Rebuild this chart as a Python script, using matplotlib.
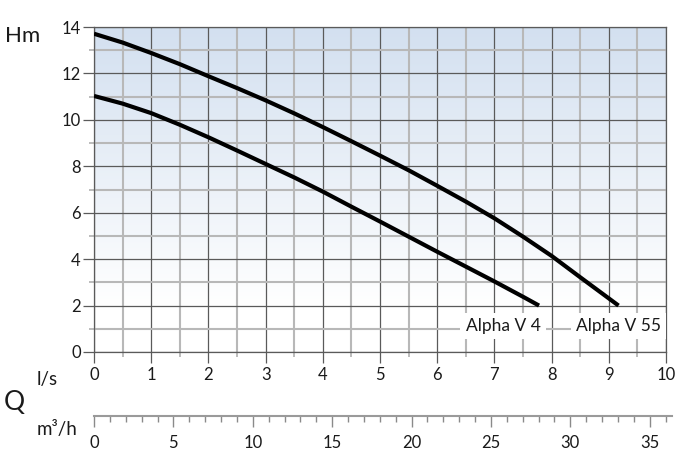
import numpy as np
import matplotlib
matplotlib.use("Agg")
import matplotlib.pyplot as plt
from matplotlib.ticker import MultipleLocator

plt.rcParams['font.family'] = ['Lato', 'DejaVu Sans']

# ---- data ----
q_v55 = [0, 0.5, 1, 1.5, 2, 2.5, 3, 3.5, 4, 4.5, 5, 5.5, 6, 6.5, 7, 7.5, 8, 8.5, 9, 9.17]
h_v55 = [13.71, 13.33, 12.88, 12.40, 11.88, 11.37, 10.84, 10.28, 9.69, 9.08, 8.46, 7.83, 7.16, 6.48, 5.76, 4.97, 4.14, 3.22, 2.31, 2.0]
q_v4 = [0, 0.5, 1, 1.5, 2, 2.5, 3, 3.5, 4, 4.5, 5, 5.5, 6, 6.5, 7, 7.5, 7.78]
h_v4 = [11.03, 10.70, 10.29, 9.79, 9.25, 8.68, 8.10, 7.52, 6.91, 6.26, 5.62, 4.97, 4.32, 3.68, 3.04, 2.38, 2.0]
series_names = ["Alpha V 4", "Alpha V 55"]
label_pos = [(7.15, 1.12), (9.17, 1.12)]

x_ticks = list(range(0, 11))
y_ticks = list(range(0, 15, 2))
m3h_ticks = list(range(0, 36, 5))

fig = plt.figure(figsize=(6.95, 4.58), dpi=100)
ax = fig.add_axes([94/695, 106/458, 572/695, 325/458])

# gradient background
top = np.array([211, 224, 240]) / 255.0
yy = np.linspace(0, 14, 200)
t = np.clip((yy - 2.0) / 12.0, 0, 1)[:, None]
grad = (1 - t) * np.ones(3) + t * top
img = np.repeat(grad[:, None, :], 2, axis=1)
ax.imshow(img, extent=[0, 10, 0, 14], origin='lower', aspect='auto', zorder=0)

ax.set_xlim(0, 10)
ax.set_ylim(0, 14)
ax.set_xticks(x_ticks)
ax.set_yticks(y_ticks)
ax.xaxis.set_minor_locator(MultipleLocator(0.5))
ax.yaxis.set_minor_locator(MultipleLocator(1))
ax.set_axisbelow(True)
ax.grid(which='minor', color='#b8b8b8', linewidth=1.5)
ax.grid(which='major', color='#5a5a5a', linewidth=0.9)
for s in ax.spines.values():
    s.set_color('#5a5a5a')
    s.set_linewidth(0.9)
ax.tick_params(axis='both', which='major', length=8, width=0.9, color='#5a5a5a',
               labelsize=12, labelcolor='#1a1a1a')
ax.tick_params(axis='y', which='major', pad=1.5)
ax.tick_params(axis='x', which='major', pad=3)
ax.tick_params(axis='both', which='minor', length=3.5, width=1.2, color='#b0b0b0')

ax.plot(q_v4, h_v4, color='black', linewidth=3.0, solid_capstyle='butt', zorder=3)
ax.plot(q_v55, h_v55, color='black', linewidth=3.0, solid_capstyle='butt', zorder=3)

for name, (lx, ly) in zip(series_names, label_pos):
    ax.text(lx, ly, name, ha='center', va='center', fontsize=12.5, color='#1a1a1a',
            bbox=dict(boxstyle='square,pad=0.3', fc='white', ec='none'), zorder=4)

# secondary m3/h scale
ax2 = fig.add_axes([94/695, (458 - 415.7)/458, 578/695, 0.0001])
ax2.set_xlim(0, 36.4)
ax2.set_ylim(0, 1)
ax2.set_yticks([])
ax2.set_xticks(m3h_ticks)
ax2.xaxis.set_minor_locator(MultipleLocator(1))
for k in ['top', 'left', 'right']:
    ax2.spines[k].set_visible(False)
ax2.spines['bottom'].set_color('#9a9a9a')
ax2.spines['bottom'].set_linewidth(1.5)
ax2.patch.set_alpha(0)
ax2.tick_params(axis='x', which='major', length=8, width=1.0, color='#8a8a8a',
                labelsize=12, labelcolor='#1a1a1a', pad=6)
ax2.tick_params(axis='x', which='minor', length=4.5, width=1.0, color='#8a8a8a')

# axis texts
fig.text(5/695, 1 - 36/458, "Hm", fontsize=16, ha='left', va='center', color='#1a1a1a')
fig.text(37/695, 1 - 379/458, "l/s", fontsize=13.5, ha='left', va='center', color='#1a1a1a')
fig.text(4/695, 1 - 402/458, "Q", fontsize=19, ha='left', va='center', color='#1a1a1a')
fig.text(37/695, 1 - 430/458, "m³/h", fontsize=13.5, ha='left', va='center', color='#1a1a1a')

fig.savefig("out.png", dpi=100)
